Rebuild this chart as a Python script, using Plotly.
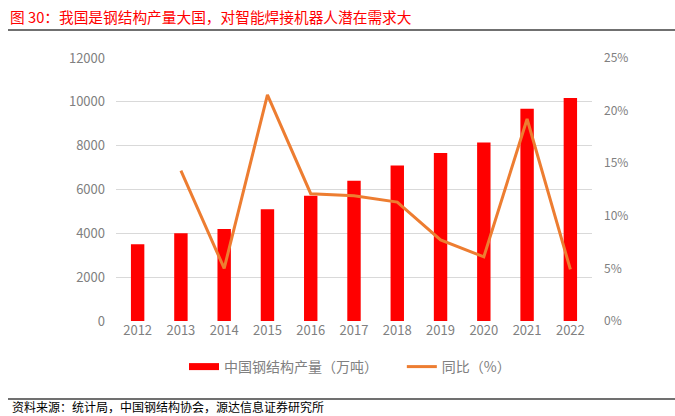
import plotly.graph_objects as go

# data
years = ["2012", "2013", "2014", "2015", "2016", "2017", "2018", "2019", "2020", "2021", "2022"]
output = [3500, 4000, 4200, 5100, 5720, 6400, 7100, 7670, 8140, 9680, 10180]
yoy = [None, 14.3, 5.0, 21.5, 12.1, 11.9, 11.3, 7.7, 6.1, 19.2, 4.9]

W, H = 675, 416
L, R, T, B = 116, 83, 58, 95
pw, ph = W - L - R, H - T - B


def px(x):
    return (x - L) / pw


def py(y):
    return (H - B - y) / ph


font = "Noto Sans CJK SC, Liberation Sans, sans-serif"

fig = go.Figure()
fig.add_trace(go.Bar(
    x=years, y=output, name="中国钢结构产量（万吨）", showlegend=False,
    marker=dict(color="#FF0000", line=dict(width=0)), width=0.31,
))
# legend swatch for the bars (wide red block as in the reference)
fig.add_trace(go.Scatter(
    x=[None], y=[None], name="中国钢结构产量（万吨）" + "\u00a0" * 6, mode="lines",
    line=dict(color="#FF0000", width=7),
))
fig.add_trace(go.Scatter(
    x=years, y=yoy, name="同比（%）", yaxis="y2", mode="lines",
    line=dict(color="#ED7D31", width=3),
))

fig.update_layout(
    width=W, height=H,
    margin=dict(l=L, r=R, t=T, b=B, autoexpand=False),
    plot_bgcolor="white", paper_bgcolor="white",
    font=dict(family=font, size=12, color="#808080"),
    showlegend=True,
    legend=dict(orientation="h", x=px(184), xanchor="left", y=py(367), yanchor="middle",
                font=dict(size=14, color="#808080"), itemwidth=30, tracegroupgap=0),
    xaxis=dict(type="category", showgrid=False, ticks="", tickfont=dict(size=13),
               showline=False),
    yaxis=dict(range=[0, 12000], dtick=2000, tickformat="d", showgrid=True,
               gridcolor="#D9D9D9", gridwidth=1, zeroline=False,
               tickfont=dict(size=13), ticks="", ticklabelstandoff=10),
    yaxis2=dict(range=[0, 25], dtick=5, ticksuffix="%", overlaying="y", side="right",
                showgrid=False, zeroline=False, tickfont=dict(size=12), ticks="",
                ticklabelstandoff=11),
    title=dict(text="图 30：我国是钢结构产量大国，对智能焊接机器人潜在需求大",
               xref="container", yref="container", x=10 / W, xanchor="left",
               y=1 - 18 / H, yanchor="middle",
               font=dict(family=font, size=14.7, color="#FF0000")),
    shapes=[
        dict(type="line", xref="paper", yref="paper", x0=px(8), x1=px(675),
             y0=py(30), y1=py(30), line=dict(color="#404040", width=1.5)),
        dict(type="line", xref="paper", yref="paper", x0=px(8), x1=px(675),
             y0=py(399), y1=py(399), line=dict(color="#404040", width=1.5)),
    ],
    annotations=[
        dict(text="资料来源：统计局，中国钢结构协会，源达信息证券研究所",
             xref="paper", yref="paper", x=px(10), y=py(406), xanchor="left",
             yanchor="middle", showarrow=False,
             font=dict(family=font, size=12, color="#000000")),
    ],
)

fig.write_html("out.html", config={"displayModeBar": False},
               post_script="document.body.style.margin='0';document.body.style.overflow='hidden';")
